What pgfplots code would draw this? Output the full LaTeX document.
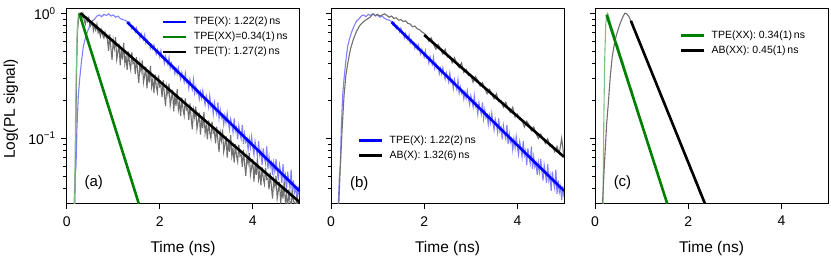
\documentclass[border=0pt]{standalone}
\usepackage{fontspec}
\setmainfont{Liberation Sans}
\usepackage{pgfplots}
\usepackage{pgfplotstable}
\pgfplotsset{compat=1.18}
\definecolor{fitblue}{RGB}{0,0,255}
\definecolor{fitgreen}{RGB}{0,128,0}
\definecolor{datblue}{RGB}{128,128,255}
\definecolor{datgray}{RGB}{112,112,112}
\definecolor{datgreen}{RGB}{128,192,128}

\pgfplotstableread{
x y
0.10 0.02
0.15 0.025
0.18 0.05
0.20 0.06
0.22 0.12
0.25 0.22
0.28 0.30
0.32 0.42
0.36 0.55
0.40 0.63
0.45 0.72
0.50 0.80
0.55 0.87
0.60 0.90
0.65 0.95
0.70 0.97
0.75 0.94
0.80 0.98
0.85 0.96
0.90 0.99
0.95 0.95
1.00 0.97
1.05 0.93
1.10 0.95
1.15 0.91
1.20 0.89
1.25 0.88
1.300 0.860
1.325 0.814
1.350 0.846
1.375 0.790
1.400 0.751
1.425 0.786
1.450 0.749
1.475 0.708
1.500 0.759
1.525 0.691
1.550 0.697
1.575 0.637
1.600 0.688
1.625 0.641
1.650 0.612
1.675 0.669
1.700 0.579
1.725 0.611
1.750 0.567
1.775 0.576
1.800 0.524
1.825 0.558
1.850 0.518
1.875 0.557
1.900 0.506
1.925 0.472
1.950 0.514
1.975 0.482
2.000 0.446
2.025 0.500
2.050 0.440
2.075 0.451
2.100 0.399
2.125 0.450
2.150 0.411
2.175 0.388
2.200 0.444
2.225 0.364
2.250 0.398
2.275 0.361
2.300 0.371
2.325 0.329
2.350 0.362
2.375 0.328
2.400 0.366
2.425 0.324
2.450 0.297
2.475 0.335
2.500 0.310
2.525 0.282
2.550 0.331
2.575 0.280
2.600 0.292
2.625 0.250
2.650 0.295
2.675 0.264
2.700 0.245
2.725 0.294
2.750 0.230
2.775 0.258
2.800 0.229
2.825 0.238
2.850 0.206
2.875 0.235
2.900 0.209
2.925 0.240
2.950 0.207
2.975 0.186
3.000 0.219
3.025 0.200
3.050 0.178
3.075 0.218
3.100 0.179
3.125 0.189
3.150 0.156
3.175 0.193
3.200 0.170
3.225 0.156
3.250 0.194
3.275 0.144
3.300 0.169
3.325 0.146
3.350 0.154
3.375 0.129
3.400 0.152
3.425 0.133
3.450 0.158
3.475 0.133
3.500 0.117
3.525 0.142
3.550 0.129
3.575 0.112
3.600 0.144
3.625 0.114
3.650 0.122
3.675 0.098
3.700 0.126
3.725 0.108
3.750 0.099
3.775 0.128
3.800 0.090
3.825 0.109
3.850 0.093
3.875 0.099
3.900 0.081
3.925 0.099
3.950 0.084
3.975 0.103
4.000 0.085
4.025 0.074
4.050 0.094
4.075 0.083
4.100 0.071
4.125 0.095
4.150 0.073
4.175 0.0795
4.200 0.061
4.225 0.083
4.250 0.070
4.275 0.063
4.300 0.086
4.325 0.057
4.350 0.071
4.375 0.059
4.400 0.064
4.425 0.051
4.450 0.064
4.475 0.054
4.500 0.068
4.525 0.055
4.550 0.046
4.575 0.061
4.600 0.053
4.625 0.044
4.650 0.062
4.675 0.046
4.700 0.051
4.725 0.038
4.750 0.054
4.775 0.045
4.800 0.040
4.825 0.056
4.850 0.036
4.875 0.046
4.900 0.037
4.925 0.041
4.950 0.032
4.975 0.0415
5.000 0.034
}\tpeX

\pgfplotstableread{
x y
0.10 0.02
0.17 0.025
0.19 0.07
0.21 0.3
0.23 0.7
0.26 0.95
0.300 1.000
0.325 0.895
0.350 0.995
0.375 0.889
0.400 0.818
0.425 0.919
0.450 0.859
0.475 0.920
0.500 0.779
0.525 0.805
0.550 0.848
0.575 0.725
0.600 0.795
0.625 0.733
0.650 0.818
0.675 0.697
0.700 0.723
0.725 0.654
0.750 0.734
0.775 0.667
0.800 0.633
0.825 0.705
0.850 0.642
0.875 0.620
0.900 0.500
0.925 0.679
0.950 0.525
0.975 0.425
1.000 0.608
1.025 0.527
1.050 0.643
1.075 0.428
1.100 0.487
1.125 0.570
1.150 0.384
1.175 0.513
1.200 0.427
1.225 0.580
1.250 0.396
1.275 0.452
1.300 0.353
1.325 0.496
1.350 0.400
1.375 0.356
1.400 0.487
1.425 0.396
1.450 0.406
1.475 0.327
1.500 0.445
1.525 0.343
1.550 0.278
1.575 0.397
1.600 0.344
1.625 0.420
1.650 0.280
1.675 0.318
1.700 0.373
1.725 0.251
1.750 0.335
1.775 0.279
1.800 0.380
1.825 0.259
1.850 0.296
1.875 0.231
1.900 0.324
1.925 0.261
1.950 0.233
1.975 0.318
2.000 0.258
2.025 0.265
2.050 0.214
2.075 0.291
2.100 0.224
2.125 0.181
2.150 0.259
2.175 0.225
2.200 0.274
2.225 0.183
2.250 0.208
2.275 0.244
2.300 0.164
2.325 0.219
2.350 0.182
2.375 0.247
2.400 0.169
2.425 0.193
2.450 0.151
2.475 0.212
2.500 0.171
2.525 0.152
2.550 0.208
2.575 0.169
2.600 0.173
2.625 0.140
2.650 0.190
2.675 0.146
2.700 0.118
2.725 0.169
2.750 0.147
2.775 0.179
2.800 0.119
2.825 0.136
2.850 0.160
2.875 0.107
2.900 0.143
2.925 0.120
2.950 0.162
2.975 0.110
3.000 0.126
3.025 0.098
3.050 0.139
3.075 0.111
3.100 0.100
3.125 0.136
3.150 0.110
3.175 0.113
3.200 0.091
3.225 0.124
3.250 0.096
3.275 0.078
3.300 0.111
3.325 0.096
3.350 0.118
3.375 0.078
3.400 0.089
3.425 0.104
3.450 0.070
3.475 0.093
3.500 0.078
3.525 0.106
3.550 0.072
3.575 0.083
3.600 0.064
3.625 0.090
3.650 0.073
3.675 0.065
3.700 0.089
3.725 0.072
3.750 0.074
3.775 0.059
3.800 0.081
3.825 0.062
3.850 0.050
3.875 0.072
3.900 0.063
3.925 0.076
3.950 0.051
3.975 0.058
4.000 0.068
4.025 0.045
4.050 0.061
4.075 0.051
4.100 0.069
4.125 0.047
4.150 0.054
4.175 0.042
4.200 0.059
4.225 0.048
4.250 0.043
4.275 0.058
4.300 0.047
4.325 0.048
4.350 0.039
4.375 0.053
4.400 0.041
4.425 0.033
4.450 0.047
4.475 0.041
4.500 0.050
4.525 0.033
4.550 0.038
4.575 0.045
4.600 0.030
4.625 0.040
4.650 0.033
4.675 0.045
4.700 0.031
4.725 0.035
4.750 0.027
4.775 0.039
4.800 0.031
4.825 0.028
4.850 0.0385
4.875 0.031
4.900 0.031
4.925 0.025
4.950 0.035
4.975 0.027
5.000 0.022
}\tpeT

\pgfplotstableread{
x y
0.10 0.02
0.17 0.025
0.19 0.15
0.21 0.45
0.23 0.8
0.25 0.97
0.27 1.0
0.30 0.93
0.35 0.79
0.40 0.71
0.45 0.60
0.50 0.54
0.55 0.46
0.60 0.41
0.65 0.35
0.70 0.31
0.75 0.265
0.80 0.24
0.85 0.20
0.90 0.18
0.95 0.153
1.00 0.137
1.05 0.116
1.10 0.105
1.15 0.088
1.20 0.080
1.25 0.066
1.30 0.061
1.35 0.051
1.40 0.046
1.45 0.038
1.50 0.035
1.55 0.029
1.60 0.027
1.65 0.022
}\tpeXX

\pgfplotstableread{
x y
0.10 0.02
0.16 0.025
0.20 0.06
0.24 0.12
0.28 0.22
0.32 0.32
0.37 0.42
0.42 0.52
0.48 0.62
0.55 0.72
0.62 0.80
0.70 0.86
0.78 0.90
0.84 0.93
0.90 0.99
0.95 0.96
1.00 0.98
1.05 0.95
1.10 0.97
1.15 0.99
1.20 0.96
1.25 0.93
1.30 0.95
1.35 0.91
1.40 0.92
1.45 0.88
1.50 0.89
1.55 0.86
1.60 0.87
1.65 0.83
1.70 0.82
1.75 0.78
1.80 0.79
1.85 0.75
1.90 0.74
1.95 0.71
2.00 0.69
2.05 0.664
2.10 0.597
2.15 0.635
2.20 0.565
2.25 0.517
2.30 0.562
2.35 0.516
2.40 0.472
2.45 0.516
2.50 0.447
2.55 0.453
2.60 0.402
2.65 0.441
2.70 0.393
2.75 0.367
2.80 0.401
2.85 0.337
2.90 0.356
2.95 0.319
3.00 0.320
3.05 0.281
3.10 0.312
3.15 0.291
3.20 0.262
3.25 0.279
3.30 0.248
3.35 0.227
3.40 0.247
3.45 0.226
3.50 0.207
3.55 0.227
3.60 0.196
3.65 0.199
3.70 0.177
3.75 0.194
3.80 0.172
3.85 0.161
3.90 0.177
3.95 0.148
4.00 0.156
4.05 0.141
4.10 0.140
4.15 0.123
4.20 0.137
4.25 0.128
4.30 0.115
4.35 0.123
4.40 0.109
4.45 0.0995
4.50 0.108
4.55 0.099
4.60 0.091
4.65 0.099
4.70 0.086
4.75 0.088
4.80 0.078
4.85 0.086
4.90 0.076
4.95 0.100
5.00 0.070
}\abX

\pgfplotstableread{
x y
0.10 0.02
0.15 0.025
0.20 0.06
0.25 0.13
0.29 0.20
0.33 0.32
0.37 0.45
0.42 0.58
0.46 0.67
0.50 0.75
0.55 0.85
0.60 0.94
0.64 1.0
0.68 0.99
0.72 0.95
0.77 0.87
0.80 0.82
0.85 0.73
0.90 0.67
0.95 0.59
1.00 0.54
1.05 0.48
1.10 0.43
1.15 0.39
1.20 0.35
1.25 0.31
1.30 0.285
1.35 0.25
1.40 0.23
1.45 0.203
1.50 0.186
1.55 0.164
1.60 0.15
1.65 0.132
1.70 0.121
1.75 0.107
1.80 0.098
1.85 0.086
1.90 0.079
1.95 0.069
2.00 0.064
2.05 0.056
2.10 0.052
2.15 0.045
2.20 0.042
2.25 0.036
2.30 0.034
2.35 0.029
2.40 0.027
}\abXX

\pgfplotsset{
  datline/.style={forget plot, line width=1.1pt},
  fitline/.style={line width=2.6pt},
}

\begin{document}
\begin{tikzpicture}
\useasboundingbox (0pt,0pt) rectangle (831pt,259pt);

\pgfplotsset{
  every axis/.append style={
    anchor=south west, scale only axis,
    width=233pt, height=195pt,
    xmin=0, xmax=5, ymin=0.0302, ymax=1.096,
    xtick={0,2,4},
    ytick={0.1,1},
    minor ytick={0.04,0.05,0.06,0.07,0.08,0.09,0.2,0.3,0.4,0.5,0.6,0.7,0.8,0.9},
    tick align=outside, tick pos=left,
    major tick length=5.5pt, minor tick length=3.5pt,
    major tick style={black, line width=0.8pt},
    minor tick style={black, line width=0.6pt},
    axis line style={line width=0.8pt},
    xticklabel style={font=\fontsize{14}{14}\selectfont, yshift=-4pt},
    yticklabel style={font=\fontsize{14}{14}\selectfont, xshift=-2pt},
    xlabel={Time (ns)},
    xlabel style={font=\fontsize{15.5}{16}\selectfont, at={(axis description cs:0.5,-0.2330)}, anchor=center},
    legend cell align=left,
    legend image code/.code={\draw[#1, line width=2.6pt] (0pt,0pt) -- (23pt,0pt);},
    legend style={draw=none, fill=none, inner sep=0pt, anchor=north west,
      font=\fontsize{10.5}{12}\selectfont, row sep=4.5pt, column sep=6.5pt,
      nodes={inner sep=0pt, text height=8pt, text depth=2.5pt}},
  },
}

% Panel (a)
\begin{semilogyaxis}[at={(66.7pt,55.7pt)}, width=232.6pt,
  /pgf/number format/assume math mode=true,
  yticklabels={{10\textsuperscript{−1}},{10\textsuperscript{0}}},
  ylabel={Log(PL signal)},
  ylabel style={font=\fontsize{15.5}{16}\selectfont, at={(axis description cs:-0.2395,0.484)}, anchor=center},
  legend style={at={(axis description cs:0.4084,0.958)}},
]
\addplot[datblue, datline] table[x=x,y=y] {\tpeX};
\addplot[datgray, datline] table[x=x,y=y] {\tpeT};
\addplot[datgreen, datline] table[x=x,y=y] {\tpeXX};
\addplot[fitblue, fitline] coordinates {(1.3,0.85) (5.0,0.038)};
\addlegendentry{TPE(X): 1.22(2)\,ns}
\addplot[fitgreen, fitline] coordinates {(0.27,1.0) (1.55,0.030)};
\addlegendentry{TPE(XX)=0.34(1)\,ns}
\addplot[black, fitline] coordinates {(0.30,1.0) (5.0,0.031)};
\addlegendentry{TPE(T): 1.27(2)\,ns}
\node[font=\fontsize{15}{16}\selectfont] at (axis description cs:0.116,0.104) {(a)};
\end{semilogyaxis}

% Panel (b)
\begin{semilogyaxis}[at={(331pt,55.7pt)},
  /pgf/number format/assume math mode=true,
  yticklabels={,},
  legend style={at={(axis description cs:0.113,0.350)}},
]
\addplot[datblue, datline] table[x=x,y=y] {\tpeX};
\addplot[datgray, datline] table[x=x,y=y] {\abX};
\addplot[fitblue, fitline] coordinates {(1.3,0.85) (5.0,0.038)};
\addlegendentry{TPE(X): 1.22(2)\,ns}
\addplot[black, fitline] coordinates {(2.0,0.67) (5.0,0.071)};
\addlegendentry{AB(X): 1.32(6)\,ns}
\node[font=\fontsize{15}{16}\selectfont] at (axis description cs:0.121,0.103) {(b)};
\end{semilogyaxis}

% Panel (c)
\begin{semilogyaxis}[at={(595pt,55.7pt)},
  /pgf/number format/assume math mode=true,
  yticklabels={,},
  legend style={at={(axis description cs:0.362,0.889)}},
]
\addplot[datgreen, datline] table[x=x,y=y] {\tpeXX};
\addplot[datgray, datline] table[x=x,y=y] {\abXX};
\addplot[fitgreen, fitline] coordinates {(0.25,0.97) (1.55,0.030)};
\addlegendentry{TPE(XX): 0.34(1)\,ns}
\addplot[black, fitline] coordinates {(0.77,0.87) (2.36,0.030)};
\addlegendentry{AB(XX): 0.45(1)\,ns}
\node[font=\fontsize{15}{16}\selectfont] at (axis description cs:0.118,0.106) {(c)};
\end{semilogyaxis}
\end{tikzpicture}
\end{document}
